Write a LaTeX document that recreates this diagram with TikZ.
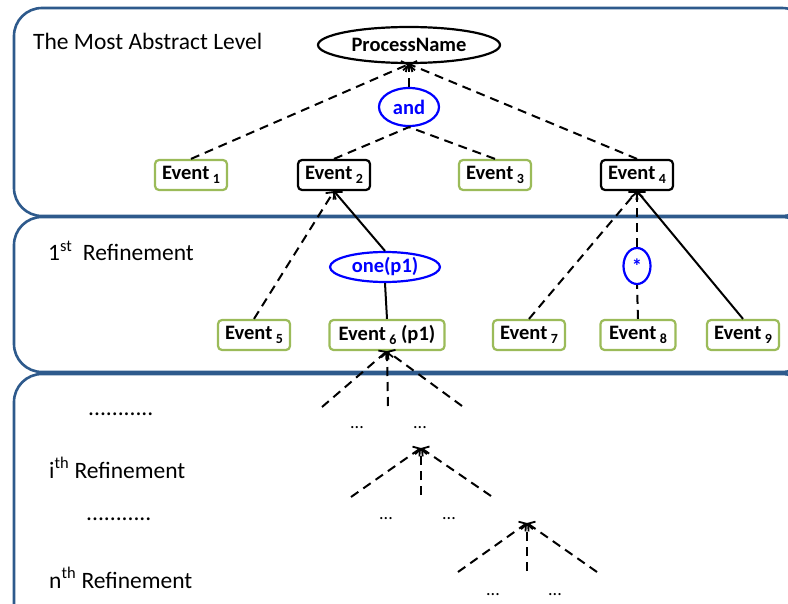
\documentclass[tikz,border=0pt]{standalone}
\usepackage{fontspec}
\setmainfont{Carlito}
\usetikzlibrary{shapes.geometric,arrows.meta}
\definecolor{panelblue}{HTML}{2E5A8C}
\definecolor{evgreen}{HTML}{9BBB59}
\tikzset{
  panel/.style={draw=panelblue,line width=2.6pt,rounded corners=28pt},
  evbox/.style={draw=evgreen,line width=2.2pt,rounded corners=4pt,fill=white,
    inner sep=0pt,minimum height=30pt,minimum width=72pt,
    font=\fontsize{20.5}{20.5}\selectfont\bfseries},
  evblack/.style={evbox,draw=black},
  opnode/.style={ellipse,draw=blue,line width=2.2pt,inner sep=0pt,text=blue,
    font=\fontsize{20.5}{20.5}\selectfont\bfseries,fill=white},
  dashln/.style={draw,line width=2pt,dash pattern=on 9pt off 6pt},
  solln/.style={draw,line width=2pt},
  arrend/.style={arrows={-{Straight Barb[length=5pt,width=12pt,line width=1.8pt]}}},
  lvl/.style={anchor=base west,inner sep=0pt,font=\fontsize{23.5}{23.5}\selectfont},
  dots/.style={inner sep=0pt,font=\fontsize{18}{18}\selectfont},
}
\newcommand{\ev}[1]{Event\,{\fontsize{14}{14}\selectfont\raisebox{-4pt}{#1}}}
\begin{document}
\begin{tikzpicture}[x=1pt,y=-1pt]
\useasboundingbox (0,0) rectangle (788,604);
% panels
\draw[panel] (14,8) rectangle (810,216);
\draw[panel] (14,217) rectangle (810,372);
\draw[panel] (14,374) rectangle (810,640);
% level labels
\node[lvl] (l0) at (33,50) {The Most Abstract Level};
\node[lvl] (l1) at (48,261) {1\textsuperscript{st}\ \ Refinement};
\node[lvl] (d1) at (88,415) {...........};
\node[lvl] (li) at (49,478) {i\textsuperscript{th} Refinement};
\node[lvl] (d2) at (86,520) {...........};
\node[lvl] (ln) at (49,588) {n\textsuperscript{th} Refinement};
% top level
\node[ellipse,draw=black,line width=2.2pt,inner sep=0pt,minimum width=182pt,minimum height=36pt,
  font=\fontsize{20.5}{20.5}\selectfont\bfseries] (pn) at (409,45) {ProcessName};
\node[opnode,minimum width=60pt,minimum height=38pt] (and) at (409,107) {and};
\node[evbox] (e1) at (191,175) {\ev{1}};
\node[evblack] (e2) at (334,175) {\ev{2}};
\node[evbox] (e3) at (495,175) {\ev{3}};
\node[evblack] (e4) at (637,175) {\ev{4}};
% first refinement
\node[opnode,minimum width=110pt,minimum height=30pt] (one) at (385,267) {one(p1)};
\node[opnode,minimum width=27pt,minimum height=36pt] (star) at (637,266) {*};
\node[evbox] (e5) at (254,335) {\ev{5}};
\node[evbox,minimum width=115pt] (e6) at (387,335) {\ev{6} (p1)};
\node[evbox] (e7) at (529,335) {\ev{7}};
\node[evbox,minimum width=75pt] (e8) at (638,335) {\ev{8}};
\node[evbox] (e9) at (743,335) {\ev{9}};
% edges top
\draw[dashln,arrend] (e1.north) -- (pn.south);
\draw[dashln,arrend] (and.north) -- (pn.south);
\draw[dashln,arrend] (e4.north) -- (pn.south);
\draw[dashln] (e2.north) -- (and.south);
\draw[dashln] (e3.north) -- (and.south);
% edges first refinement
\draw[dashln,arrend] (e5.north) -- (e2.south);
\draw[solln,arrend] (one.north) -- (e2.south);
\draw[solln] (e6.north) -- (one.south);
\draw[dashln,arrend] (e7.north) -- (e4.south);
\draw[dashln,arrend] (star.north) -- (e4.south);
\draw[dashln] (e8.north) -- (star.south);
\draw[solln,arrend] (e9.north) -- (e4.south);
% lower levels
\coordinate (a1l) at (322,407);
\coordinate (a1m) at (388,406);
\coordinate (a1r) at (462,406);
\draw[dashln,arrend] (a1l) -- (e6.south);
\draw[dashln,arrend] (a1m) -- (e6.south);
\draw[dashln,arrend] (a1r) -- (e6.south);
\node[dots] (k1) at (357,428) {...};
\node[dots] (k2) at (420,428) {...};
\coordinate (a2) at (421,448);
\coordinate (a2l) at (351,497);
\coordinate (a2m) at (421,495);
\coordinate (a2r) at (491,496);
\draw[dashln,arrend] (a2l) -- (a2);
\draw[dashln,arrend] (a2m) -- (a2);
\draw[dashln,arrend] (a2r) -- (a2);
\node[dots] (k3) at (386,519) {...};
\node[dots] (k4) at (449,519) {...};
\coordinate (a3) at (527,523);
\coordinate (a3l) at (458,572);
\coordinate (a3m) at (527,571);
\coordinate (a3r) at (597,572);
\draw[dashln,arrend] (a3l) -- (a3);
\draw[dashln,arrend] (a3m) -- (a3);
\draw[dashln,arrend] (a3r) -- (a3);
\node[dots] (k5) at (493,595) {...};
\node[dots] (k6) at (555,595) {...};
\end{tikzpicture}
\end{document}
